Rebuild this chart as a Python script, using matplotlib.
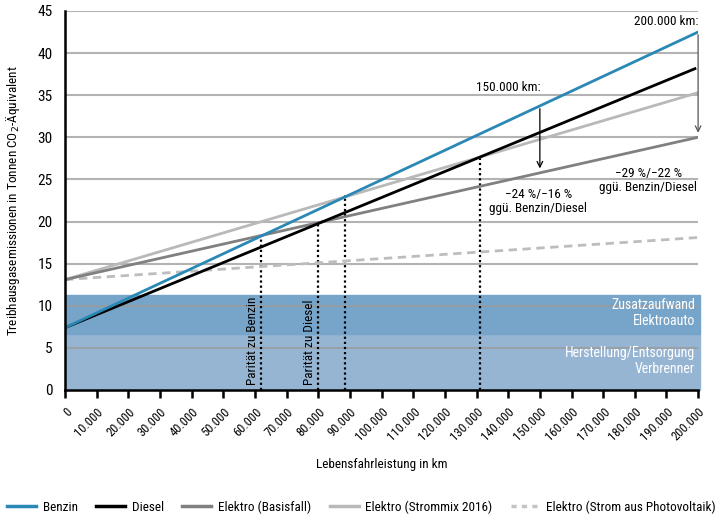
import matplotlib.pyplot as plt
import numpy as np
from matplotlib.lines import Line2D

plt.rcParams["font.family"] = ["Roboto Condensed", "Liberation Sans Narrow",
                               "Liberation Sans", "DejaVu Sans"]

# data (t CO2-eq at 0 km and 200.000 km)
km = [0, 200000]
benzin = [7.4, 42.5]
diesel = [7.4, 38.3]
elektro_basis = [13.1, 30.0]
elektro_mix = [13.1, 35.3]
elektro_pv = [13.1, 18.1]

# background bands
band_herstellung = [0, 6.65]
band_zusatz = [6.65, 11.3]

# parity points (km, t)
parity_km = [62000, 80000, 88500, 131000]
parity_val = [18.3, 19.8, 23.2, 27.8]
parity_labels = ["Parität zu Benzin", "Parität zu Diesel", "", ""]

xticks = np.arange(0, 200001, 10000)
xticklabels = ["0"] + [f"{v // 1000}.000" for v in xticks[1:]]

fs = 9.5

fig = plt.figure(figsize=(7.16, 5.22), dpi=100)
ax = fig.add_axes([0.091, 0.253, 0.884, 0.726])

ax.set_xlim(0, 200000)
ax.set_ylim(0, 45)

# bands
ax.axhspan(*band_herstellung, xmin=0, xmax=1.003, color="#96b5d3", zorder=1, clip_on=False)
ax.axhspan(*band_zusatz, xmin=0, xmax=1.003, color="#77a5c9", zorder=1, clip_on=False)

# grid
for yv in range(5, 46, 5):
    ax.axhline(yv, color="#9a9a9a", lw=1.5, alpha=0.75, zorder=2)

ax.text(199000, 9.15, "Zusatzaufwand\nElektroauto", ha="right", va="center",
        color="white", fontsize=fs + 0.5, zorder=6, linespacing=1.15,
        multialignment="right")
ax.text(199000, 3.45, "Herstellung/Entsorgung\nVerbrenner", ha="right", va="center",
        color="white", fontsize=fs + 0.5, zorder=6, linespacing=1.15,
        multialignment="right")

# parity lines
for xk, yv, lab in zip(parity_km, parity_val, parity_labels):
    ax.plot([xk, xk], [0, yv], color="black", lw=1.6, ls=(0, (1, 1.3)), zorder=3)
    if lab:
        ax.text(xk - 700, 0.6, lab, rotation=90, ha="right", va="bottom",
                fontsize=fs, zorder=6)

# lines
ax.plot(km, elektro_pv, color="#bdbdbd", lw=2, ls=(0, (3, 2)), zorder=4)
ax.plot(km, elektro_mix, color="#b9b9b9", lw=2, zorder=4)
ax.plot(km, elektro_basis, color="#808080", lw=2, zorder=4)
ax.plot([km[0], 199000], [diesel[0], diesel[0] + (diesel[1] - diesel[0]) * 0.995],
        color="black", lw=2, zorder=5)
ax.plot(km, benzin, color="#2a88b5", lw=2, zorder=5)

# annotation arrows
b150 = np.interp(150000, km, benzin)
e150 = np.interp(150000, km, elektro_basis)
ax.annotate("", xy=(150000, e150 + 0.2), xytext=(150000, b150),
            arrowprops=dict(arrowstyle="->", lw=0.9, color="black"), zorder=6)
ax.annotate("", xy=(200000, elektro_basis[1] + 0.2), xytext=(200000, benzin[1]),
            arrowprops=dict(arrowstyle="->", lw=0.9, color="#555555"), zorder=6,
            annotation_clip=False)

ax.text(140000, 35.9, "150.000 km:", ha="center", va="center", fontsize=fs)
ax.text(200000, 43.8, "200.000 km:", ha="right", va="center", fontsize=fs)
ax.text(199800, 24.85, "\u221229 %/\u221222 %\nggü. Benzin/Diesel", ha="right",
        va="center", fontsize=fs, linespacing=1.1, zorder=6,
        multialignment="center")
ax.text(149500, 22.4, "\u221224 %/\u221216 %\nggü. Benzin/Diesel", ha="center",
        va="center", fontsize=fs, linespacing=1.1, zorder=6)

# axes styling
for s in ["top", "right"]:
    ax.spines[s].set_visible(False)
ax.spines["left"].set_linewidth(1.8)
ax.spines["bottom"].set_linewidth(1.8)
ax.spines["left"].set_zorder(7)
ax.spines["bottom"].set_zorder(7)

ax.set_xticks(xticks)
ax.set_xticklabels(xticklabels, rotation=45, ha="right", rotation_mode="anchor",
                   fontsize=9)
ax.tick_params(axis="x", direction="out", length=6, width=1.8, pad=5)
ax.set_yticks(range(0, 46, 5))
ax.tick_params(axis="y", length=0, labelsize=11, pad=9)

ax.set_xlabel("Lebensfahrleistung in km", fontsize=fs, labelpad=11)
ax.set_ylabel("Treibhausgasemissionen in Tonnen CO$_2$-Äquivalent", fontsize=fs,
              labelpad=11)

handles = [
    Line2D([], [], color="#2a88b5", lw=2.5),
    Line2D([], [], color="black", lw=2.5),
    Line2D([], [], color="#808080", lw=2.5),
    Line2D([], [], color="#b9b9b9", lw=2.5),
    Line2D([], [], color="#c4c4c4", lw=2.5, ls=(0, (1.5, 1.5))),
]
labels = ["Benzin", "Diesel", "Elektro (Basisfall)", "Elektro (Strommix 2016)",
          "Elektro (Strom aus Photovoltaik)"]
fig.legend(handles, labels, loc="center", bbox_to_anchor=(0.505, 0.028), ncol=5,
           frameon=False, fontsize=9.5, handlelength=2.2, columnspacing=1.4,
           handletextpad=0.5)

fig.savefig("out.png", dpi=100)
